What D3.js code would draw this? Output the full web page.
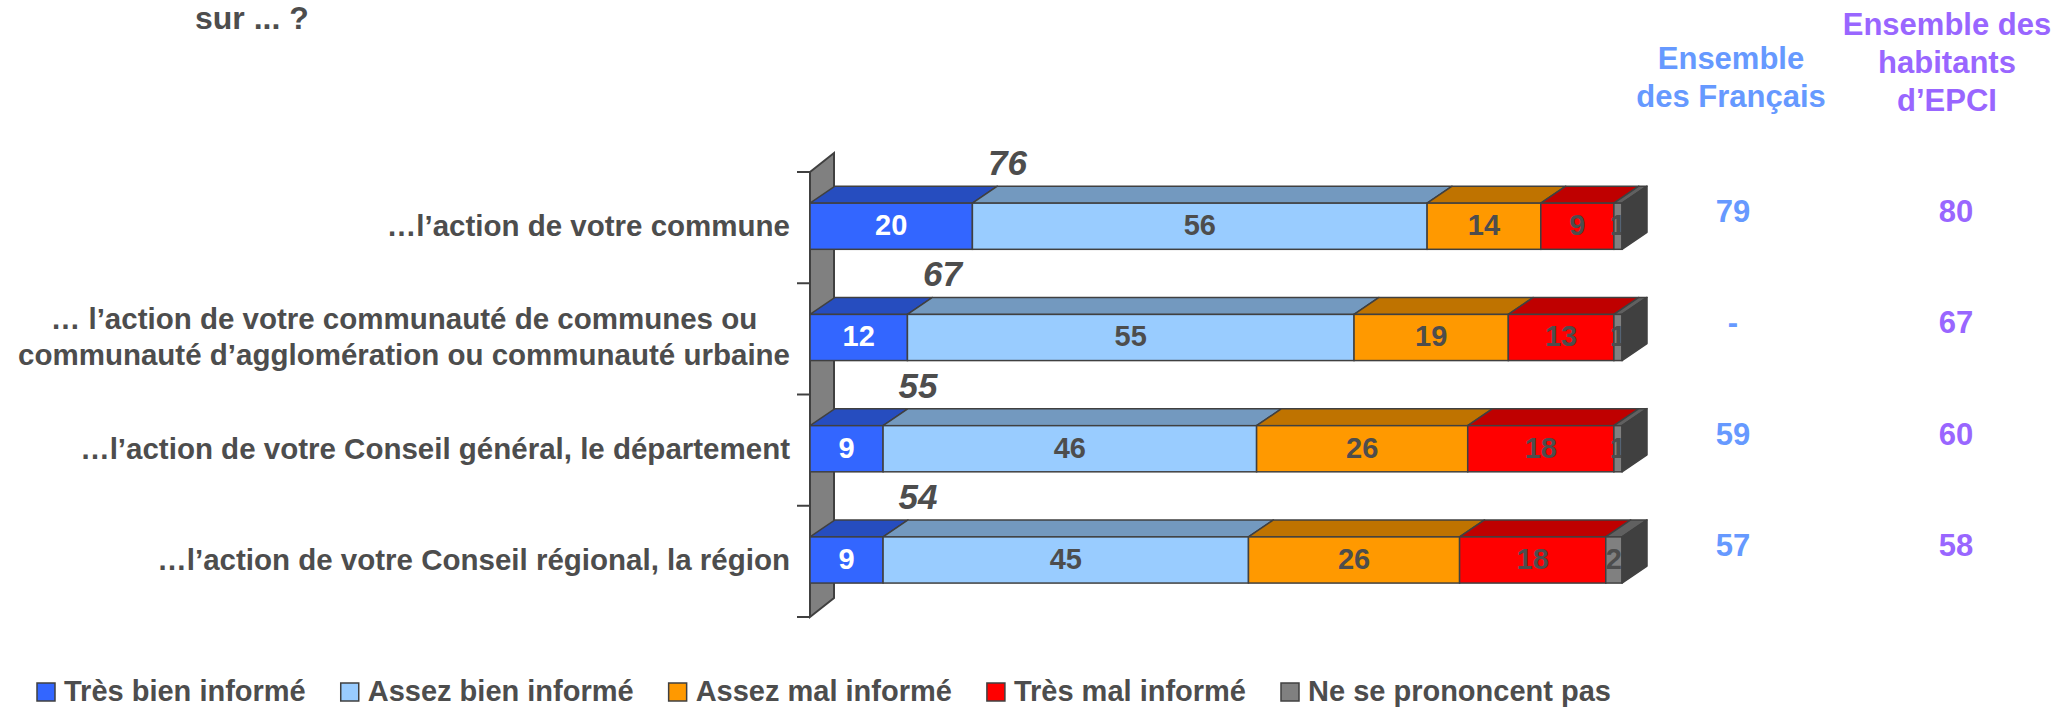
<!DOCTYPE html>
<html>
<head>
<meta charset="utf-8">
<script src="https://cdnjs.cloudflare.com/ajax/libs/d3/7.8.5/d3.min.js"></script>
<style>
  body { margin: 0; background: #fff; }
  text { font-family: "Liberation Sans", Arial, sans-serif; font-weight: bold; }
</style>
</head>
<body>
<script>
// categories (multi-line labels as arrays of lines)
const categories = [
  ["…l’action de votre commune"],
  ["… l’action de votre communauté de communes ou", "communauté d’agglomération ou communauté urbaine"],
  ["…l’action de votre Conseil général, le département"],
  ["…l’action de votre Conseil régional, la région"]
];
const seriesNames = ["Très bien informé", "Assez bien informé", "Assez mal informé", "Très mal informé", "Ne se prononcent pas"];
const seriesColors = ["#3366ff", "#99ccff", "#ff9900", "#ff0000", "#808080"];

const tresBien = [20, 12, 9, 9];
const assezBien = [56, 55, 46, 45];
const assezMal = [14, 19, 26, 26];
const tresMal = [9, 13, 18, 18];
const nsp = [1, 1, 1, 2];
const totalInforme = [76, 67, 55, 54];

const ensembleFrancais = ["79", "-", "59", "57"];
const ensembleEpci = ["80", "67", "60", "58"];
const headerFrancais = ["Ensemble", "des Français"];
const headerEpci = ["Ensemble des", "habitants", "d’EPCI"];

const W = 2059, H = 707;
const textColor = "#4d4d4d", edge = "#404040";
const blueCol = "#6699ff", purpleCol = "#9966ff";

const svg = d3.select("body").append("svg")
  .attr("width", W)
  .attr("height", H);

// title fragment (question cut at the top)
svg.append("text")
  .attr("x", 195).attr("y", 29)
  .attr("font-size", 32).attr("fill", textColor)
  .text("sur ... ?");

const rows = categories.map((c, i) => ({
  tb: tresBien[i], ab: assezBien[i], am: assezMal[i], tm: tresMal[i], ns: nsp[i]
}));
const keys = ["tb", "ab", "am", "tm", "ns"];
const stacked = d3.stack().keys(keys)(rows);

const x = d3.scaleLinear().domain([0, 100]).range([810, 1622]);
const y = d3.scaleBand().domain(d3.range(categories.length)).range([172, 617]);
const dx = 25, dy = 17;

function shade(c, k) {
  const r = d3.rgb(c);
  return d3.rgb(r.r * k, r.g * k, r.b * k).formatHex();
}

// back wall of the category axis
const y0 = y.range()[0], y1 = y.range()[1];
svg.append("polygon")
  .attr("points", [[x(0), y0], [x(0) + dx - 1, y0 - 19], [x(0) + dx - 1, y1 - 19], [x(0), y1]].join(" "))
  .attr("fill", "#808080")
  .attr("stroke", edge)
  .attr("stroke-width", 2);

// ticks at band boundaries
const tickYs = y.domain().map(d => y(d)).concat([y1]);
svg.selectAll("line.tick").data(tickYs).enter().append("line")
  .attr("class", "tick")
  .attr("x1", x(0) - 13).attr("x2", x(0))
  .attr("y1", d => d).attr("y2", d => d)
  .attr("stroke", edge).attr("stroke-width", 2);

const bw = y.bandwidth();
const frontTop = i => y(i) + bw * 0.28;
const frontH = bw * 0.415;

categories.forEach((cat, i) => {
  const g = svg.append("g");
  const fy = frontTop(i);
  const segs = stacked.map((s, k) => ({ a: s[i][0], b: s[i][1], k: k }));

  // top faces
  g.selectAll("polygon.top").data(segs).enter().append("polygon")
    .attr("class", "top")
    .attr("points", d => [[x(d.a), fy], [x(d.a) + dx, fy - dy], [x(d.b) + dx, fy - dy], [x(d.b), fy]].join(" "))
    .attr("fill", d => shade(seriesColors[d.k], 0.75))
    .attr("stroke", edge).attr("stroke-width", 1.5).attr("stroke-linejoin", "round");

  // front faces
  g.selectAll("rect.front").data(segs).enter().append("rect")
    .attr("class", "front")
    .attr("x", d => x(d.a)).attr("y", fy)
    .attr("width", d => x(d.b) - x(d.a)).attr("height", frontH)
    .attr("fill", d => seriesColors[d.k])
    .attr("stroke", edge).attr("stroke-width", 1.5);

  // segment values
  g.selectAll("text.val").data(segs).enter().append("text")
    .attr("class", "val")
    .attr("x", d => x((d.a + d.b) / 2))
    .attr("y", fy + frontH / 2 + 9)
    .attr("text-anchor", "middle")
    .attr("font-size", 29)
    .attr("fill", d => d.k === 0 ? "#ffffff" : textColor)
    .text(d => d.b - d.a);

  // right side face
  const xe = x(100);
  g.append("polygon")
    .attr("points", [[xe, fy], [xe + dx, fy - dy], [xe + dx, fy - dy + frontH], [xe, fy + frontH]].join(" "))
    .attr("fill", shade(seriesColors[4], 0.5))
    .attr("stroke", edge).attr("stroke-width", 1.5).attr("stroke-linejoin", "round");

  // total "informé"
  svg.append("text")
    .attr("x", x(tresBien[i]) + dx + 10)
    .attr("y", fy - dy - 11)
    .attr("text-anchor", "middle")
    .attr("font-size", 35)
    .attr("font-style", "italic")
    .attr("fill", textColor)
    .text(totalInforme[i]);

  // category label, lines centred within a right-aligned block
  const cy = fy + frontH / 2;
  const lines = svg.selectAll(null).data(cat).enter().append("text")
    .attr("font-size", 29.5)
    .attr("fill", textColor)
    .attr("y", (d, k) => cy + 10 + (k - (cat.length - 1) / 2) * 36)
    .text(d => d);
  let maxW = 0;
  lines.each(function () { maxW = Math.max(maxW, this.getComputedTextLength()); });
  lines.attr("x", 790 - maxW / 2).attr("text-anchor", "middle");

  // comparison columns
  svg.append("text")
    .attr("x", 1733).attr("y", cy - 15 + 11)
    .attr("text-anchor", "middle").attr("font-size", 31)
    .attr("fill", blueCol)
    .text(ensembleFrancais[i]);
  svg.append("text")
    .attr("x", 1956).attr("y", cy - 15 + 11)
    .attr("text-anchor", "middle").attr("font-size", 31)
    .attr("fill", purpleCol)
    .text(ensembleEpci[i]);
});

// column headers
svg.selectAll("text.hf").data(headerFrancais).enter().append("text")
  .attr("class", "hf")
  .attr("x", 1731).attr("y", (d, k) => 69 + k * 38)
  .attr("text-anchor", "middle").attr("font-size", 31)
  .attr("fill", blueCol)
  .text(d => d);
svg.selectAll("text.he").data(headerEpci).enter().append("text")
  .attr("class", "he")
  .attr("x", 1947).attr("y", (d, k) => 35 + k * 38)
  .attr("text-anchor", "middle").attr("font-size", 31)
  .attr("fill", purpleCol)
  .text(d => d);

// legend
let lx = 37;
seriesNames.forEach((name, k) => {
  svg.append("rect")
    .attr("x", lx).attr("y", 683)
    .attr("width", 18).attr("height", 18)
    .attr("fill", seriesColors[k])
    .attr("stroke", edge).attr("stroke-width", 1.5);
  const t = svg.append("text")
    .attr("x", lx + 27).attr("y", 701)
    .attr("font-size", 29).attr("fill", textColor)
    .text(name);
  lx += 27 + t.node().getComputedTextLength() + 35;
});
</script>
</body>
</html>
